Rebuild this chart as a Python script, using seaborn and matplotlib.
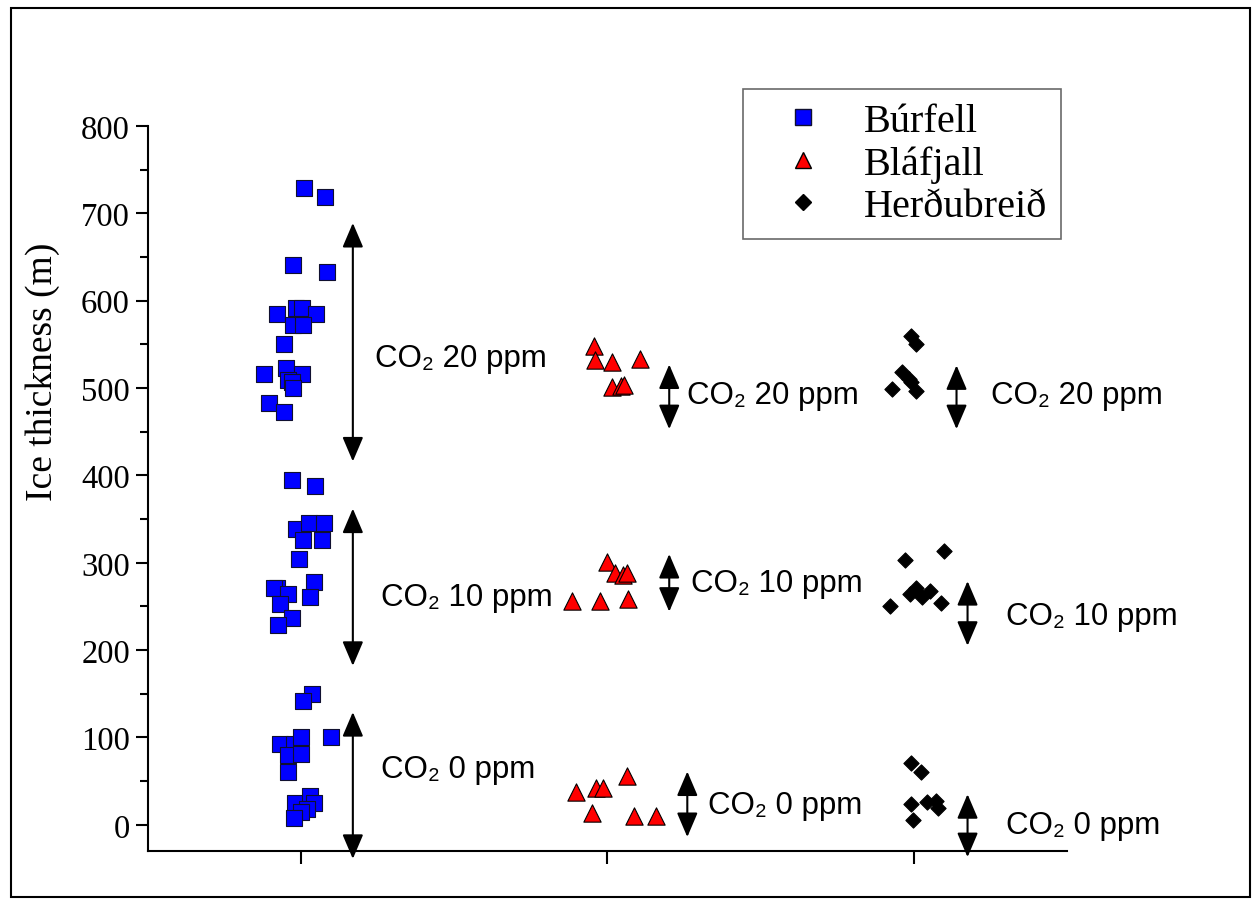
import pandas as pd
import matplotlib.pyplot as plt
import seaborn as sns
from matplotlib.lines import Line2D
from matplotlib.patches import Rectangle
from matplotlib.ticker import MultipleLocator

# Data (x = site position 1..3 plus scatter offset)
sites = ['Búrfell', 'Bláfjall', 'Herðubreið']

burfell_x = [1.010, 1.078, 0.974, 1.085, 0.984, 1.003, 0.922, 1.049, 0.974, 1.007,
             0.945, 0.879, 0.951, 1.003, 0.958, 0.971, 0.974, 0.896, 0.945,
             0.971, 1.046, 0.984, 1.026, 1.075, 1.007, 1.068, 0.993, 1.042, 0.922,
             0.912, 0.958, 1.029, 0.932, 0.971, 0.925,
             1.036, 1.007, 0.932, 0.977, 1.000, 1.098, 0.958, 1.000, 0.958,
             0.980, 1.029, 1.042, 1.020, 1.000, 0.977]
burfell_y = [729, 719, 641, 633, 592, 592, 585, 585, 572, 572,
             550, 516, 523, 516, 509, 507, 500, 483, 473,
             395, 388, 339, 346, 346, 326, 326, 304, 278, 271,
             271, 264, 261, 253, 237, 229,
             150, 142, 93, 93, 100, 100, 80, 81, 60,
             25, 33, 25, 18, 15, 8]

blafjall_x = [1.958, 1.961, 2.016, 2.107, 2.016, 2.046, 2.055,
              2.000, 2.026, 2.052, 2.065, 1.883, 1.977, 2.068,
              2.065, 1.898, 1.964, 1.987, 1.951, 2.088, 2.160]
blafjall_y = [548, 532, 530, 533, 501, 502, 503,
              301, 288, 286, 288, 256, 256, 259,
              56, 38, 42, 42, 13, 10, 10]

herdubreid_x = [2.990, 3.007, 2.961, 2.984, 2.993, 2.928, 3.007,
                3.098, 2.971, 3.007, 2.987, 3.026, 3.055, 3.088, 2.922,
                2.993, 3.023, 2.990, 3.042, 3.081, 2.997, 3.072]
herdubreid_y = [560, 550, 518, 510, 507, 499, 497,
                314, 303, 271, 264, 261, 268, 254, 251,
                71, 60, 24, 26, 19, 6, 27]

co2_labels = ['CO₂ 20 ppm', 'CO₂ 10 ppm', 'CO₂ 0 ppm']

df = pd.concat([
    pd.DataFrame({'x': burfell_x, 'thickness': burfell_y, 'site': sites[0]}),
    pd.DataFrame({'x': blafjall_x, 'thickness': blafjall_y, 'site': sites[1]}),
    pd.DataFrame({'x': herdubreid_x, 'thickness': herdubreid_y, 'site': sites[2]}),
])

sns.set_style("ticks")
plt.rcParams['font.family'] = ['Liberation Serif', 'DejaVu Serif']
for key in ['text.color', 'axes.labelcolor', 'xtick.color', 'ytick.color', 'axes.edgecolor']:
    plt.rcParams[key] = 'black'
sans = ['Liberation Sans', 'DejaVu Sans']

fig = plt.figure(figsize=(12.58, 9.12), dpi=100)
ax = fig.add_axes([0.1176, 0.0658, 0.7304, 0.7949])

styles = {
    'Búrfell': dict(marker='s', color='#0000ff', s=120, edgecolor='#101030'),
    'Bláfjall': dict(marker='^', color='#ff0000', s=155, edgecolor='black'),
    'Herðubreið': dict(marker='D', color='black', s=60, edgecolor='black'),
}

for site in sites:
    st = styles[site]
    sns.scatterplot(data=df[df['site'] == site], x='x', y='thickness',
                    marker=st['marker'], color=st['color'], s=st['s'],
                    edgecolor=st['edgecolor'], linewidth=0.8, legend=False,
                    ax=ax, zorder=3)

# double-headed arrows (x, low, high) and labels (x, y, text index)
arrows = [(1.169, 416, 689), (1.169, 182, 362), (1.169, -39, 129),
          (2.202, 453, 527), (2.202, 244, 310), (2.261, -14, 61),
          (3.140, 453, 526), (3.176, 205, 279), (3.176, -37, 35)]
labels = [(1.241, 535, 0), (1.261, 261, 1), (1.261, 64, 2),
          (2.261, 492, 0), (2.274, 277, 1), (2.329, 23, 2),
          (3.254, 492, 0), (3.300, 239, 1), (3.300, 0, 2)]

for x, lo, hi in arrows:
    ax.annotate('', xy=(x, hi), xytext=(x, lo), annotation_clip=False,
                arrowprops=dict(arrowstyle='<|-|>,head_length=0.75,head_width=0.32',
                                color='black', lw=1.5, mutation_scale=20,
                                shrinkA=0, shrinkB=0))
for x, y, i in labels:
    ax.text(x, y, co2_labels[i], fontsize=22.5, family=sans, va='center', ha='left',
            clip_on=False)

ax.set_xlim(0.5, 3.5)
ax.set_ylim(-30, 800)
ax.set_xticks([1, 2, 3])
ax.set_xticklabels([])
ax.set_yticks(range(0, 801, 100))
ax.yaxis.set_minor_locator(MultipleLocator(50))
ax.set_xlabel('')
ax.set_ylabel('Ice thickness (m)', fontsize=27)
ax.yaxis.set_label_coords(-0.096, 0.663)

sns.despine(ax=ax)
for sp in ['left', 'bottom']:
    ax.spines[sp].set_linewidth(1.5)
ax.tick_params(axis='both', which='major', direction='out', length=9, width=1.5,
               labelsize=23.5, pad=4)
ax.tick_params(axis='y', which='minor', direction='out', length=5.5, width=1.5)

handles = [Line2D([], [], linestyle='none', marker='s', markersize=11,
                  markerfacecolor='#0000ff', markeredgecolor='#101030'),
           Line2D([], [], linestyle='none', marker='^', markersize=12,
                  markerfacecolor='#ff0000', markeredgecolor='black'),
           Line2D([], [], linestyle='none', marker='D', markersize=8,
                  markerfacecolor='black', markeredgecolor='black')]
leg = ax.legend(handles, sites, loc='upper left',
                bbox_to_anchor=(743 / 1258, (912 - 90) / 912),
                bbox_transform=fig.transFigure, borderaxespad=0,
                frameon=True, fancybox=False, edgecolor='#444444',
                fontsize=29, handlelength=2.3, handletextpad=0.35,
                labelspacing=0.12, borderpad=0.35)
leg.get_frame().set_linewidth(1.2)

fig.patches.append(Rectangle((11 / 1258, 14 / 912), 1239 / 1258, 889 / 912,
                             transform=fig.transFigure, fill=False,
                             edgecolor='black', linewidth=1.5))

fig.savefig('out.png', dpi=100)
